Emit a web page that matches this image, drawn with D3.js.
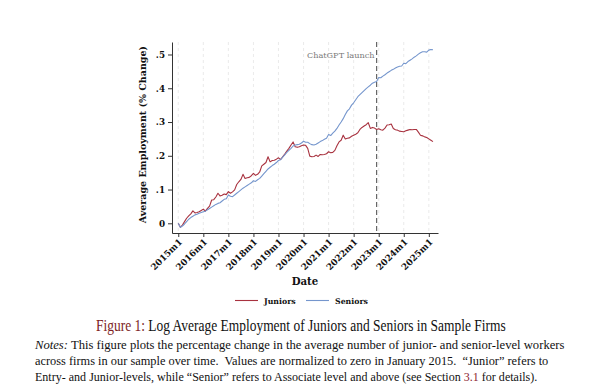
<!DOCTYPE html>
<html><head><meta charset="utf-8">
<script src="https://cdn.jsdelivr.net/npm/d3@7"></script>
<style>body{margin:0;background:#fff} svg{display:block}</style>
</head><body>
<svg id="c" width="600" height="390"></svg>
<script>
// Monthly values from 2015m1 (index 0) to 2025m3 (index 122)
const juniors = [
 0.000,-0.012,-0.005,0.005,0.015,0.022,0.028,0.037,0.031,0.032,0.034,0.038,
 0.042,0.036,0.044,0.051,0.069,0.070,0.078,0.089,0.081,0.083,0.087,0.085,
 0.094,0.089,0.093,0.099,0.115,0.123,0.130,0.145,0.133,0.135,0.136,0.141,
 0.148,0.142,0.145,0.152,0.170,0.175,0.180,0.197,0.182,0.186,0.187,0.190,
 0.194,0.189,0.197,0.205,0.214,0.222,0.232,0.241,0.227,0.225,0.227,0.230,
 0.232,0.231,0.222,0.199,0.197,0.198,0.202,0.198,0.204,0.203,0.204,0.206,
 0.212,0.209,0.210,0.216,0.230,0.241,0.246,0.261,0.250,0.252,0.253,0.258,
 0.261,0.264,0.268,0.278,0.284,0.288,0.292,0.298,0.281,0.284,0.282,0.278,
 0.280,0.277,0.276,0.282,0.291,0.292,0.294,0.281,0.277,0.276,0.273,0.272,
 0.271,0.274,0.276,0.278,0.277,0.278,0.278,0.270,0.261,0.259,0.256,0.254,
 0.250,0.246,0.242];
const seniors = [
 0.000,-0.012,-0.008,-0.002,0.005,0.012,0.017,0.021,0.025,0.027,0.030,0.032,
 0.034,0.036,0.040,0.044,0.048,0.052,0.056,0.059,0.061,0.066,0.071,0.073,
 0.084,0.080,0.079,0.084,0.089,0.094,0.099,0.104,0.108,0.112,0.116,0.120,
 0.126,0.124,0.129,0.133,0.140,0.147,0.154,0.161,0.166,0.171,0.175,0.180,
 0.186,0.188,0.196,0.203,0.210,0.216,0.222,0.229,0.232,0.233,0.234,0.238,
 0.243,0.240,0.240,0.236,0.233,0.232,0.234,0.238,0.242,0.245,0.249,0.252,
 0.263,0.260,0.267,0.273,0.281,0.291,0.300,0.310,0.322,0.333,0.339,0.350,
 0.357,0.366,0.375,0.381,0.387,0.393,0.399,0.404,0.409,0.415,0.418,0.420,
 0.432,0.431,0.436,0.440,0.445,0.449,0.453,0.456,0.460,0.463,0.465,0.466,
 0.474,0.473,0.479,0.483,0.487,0.492,0.496,0.501,0.505,0.508,0.508,0.507,
 0.513,0.515,0.514];
const seriesNames = ["Juniors", "Seniors"];
const seriesColors = ["#a8323f", "#7596cd"];
const yTicks = [0, 0.1, 0.2, 0.3, 0.4, 0.5];
const yTickLabels = ["0", ".1", ".2", ".3", ".4", ".5"];
const xTickMonths = [0, 12, 24, 36, 48, 60, 72, 84, 96, 108, 120];
const xTickLabels = ["2015m1","2016m1","2017m1","2018m1","2019m1","2020m1","2021m1","2022m1","2023m1","2024m1","2025m1"];
const launchMonth = 95;
const launchLabel = "ChatGPT launch";
const yTitle = "Average Employment (% Change)";
const xTitle = "Date";
const captionLabel = "Figure 1:";
const captionText = " Log Average Employment of Juniors and Seniors in Sample Firms";

const svg = d3.select("#c");
const chartFont = "'DejaVu Serif', serif";
const textFont = "'Liberation Serif', 'Times New Roman', serif";

const x = d3.scaleLinear().domain([-3, 124.4]).range([172, 438]);
const y = d3.scaleLinear().domain([-0.0287, 0.537]).range([233, 42]);
const [yb, yt] = y.range();

// vertical grid lines
svg.append("g").selectAll("line").data(xTickMonths).join("line")
  .attr("x1", d => x(d)).attr("x2", d => x(d))
  .attr("y1", yt).attr("y2", yb)
  .attr("stroke", "#e4e4e4").attr("stroke-width", 0.8).attr("stroke-dasharray", "3,3");

// series lines
const line = d3.line().x((d, i) => x(i)).y(d => y(d));
[juniors, seniors].forEach((s, k) => {
  svg.append("path").datum(s).attr("d", line)
    .attr("fill", "none").attr("stroke", seriesColors[k])
    .attr("stroke-width", 1.1).attr("stroke-linejoin", "round");
});

// launch line
svg.append("line").attr("x1", x(launchMonth)).attr("x2", x(launchMonth))
  .attr("y1", yt).attr("y2", yb)
  .attr("stroke", "#666").attr("stroke-width", 1.2).attr("stroke-dasharray", "5,3");
svg.append("text").attr("x", x(launchMonth) - 2).attr("y", 58)
  .attr("text-anchor", "end").attr("font-family", chartFont).attr("font-size", 8.2)
  .attr("fill", "#7a7a7a").text(launchLabel);

// axes
const yAxis = svg.append("g").attr("transform", `translate(${x.range()[0]},0)`)
  .call(d3.axisLeft(y).tickValues(yTicks).tickFormat((d, i) => yTickLabels[i])
    .tickSize(4).tickSizeOuter(0).tickPadding(3));
yAxis.selectAll("text").attr("font-family", chartFont).attr("font-weight", "bold")
  .attr("font-size", 8.8).attr("fill", "#111");
const xAxis = svg.append("g").attr("transform", `translate(0,${yb})`)
  .call(d3.axisBottom(x).tickValues(xTickMonths).tickFormat((d, i) => xTickLabels[i])
    .tickSize(4).tickSizeOuter(0));
xAxis.selectAll("text").attr("font-family", chartFont).attr("font-weight", "bold")
  .attr("font-size", 8.8).attr("fill", "#111")
  .attr("x", 0).attr("y", 0).attr("dy", 0)
  .attr("text-anchor", "end").attr("transform", "translate(4,9.5) rotate(-45)");
[yAxis, xAxis].forEach(a => {
  a.select(".domain").attr("stroke", "#333").attr("stroke-width", 1);
  a.selectAll(".tick line").attr("stroke", "#333").attr("stroke-width", 1);
});

// axis titles
svg.append("text").attr("transform", `translate(146,${(yt + y(0)) / 2 + 2}) rotate(-90)`)
  .attr("text-anchor", "middle").attr("font-family", chartFont).attr("font-weight", "bold")
  .attr("font-size", 9.5).attr("fill", "#111").text(yTitle);
svg.append("text").attr("x", (x.range()[0] + x.range()[1]) / 2).attr("y", 285)
  .attr("text-anchor", "middle").attr("font-family", chartFont).attr("font-weight", "bold")
  .attr("font-size", 10.2).attr("fill", "#111").text(xTitle);

// legend
const legX = [235, 306];
seriesNames.forEach((n, k) => {
  svg.append("line").attr("x1", legX[k]).attr("x2", legX[k] + 23)
    .attr("y1", 300.5).attr("y2", 300.5).attr("stroke", seriesColors[k]).attr("stroke-width", 1.1);
  svg.append("text").attr("x", legX[k] + 29).attr("y", 303.5)
    .attr("font-family", chartFont).attr("font-weight", "bold").attr("font-size", 7.8)
    .attr("fill", "#111").text(n);
});

// fit text horizontally
function fitLine(g, x0, width) {
  const t = g.select("text");
  const w = t.node().getComputedTextLength();
  const s = width / w;
  t.attr("transform", `translate(${x0},0) scale(${s},1)`);
}

// caption
const cap = svg.append("g").attr("transform", "translate(0,330.5)");
const capT = cap.append("text").attr("font-family", textFont).attr("font-size", 16.5)
  .attr("fill", "#111").style("white-space", "pre");
capT.append("tspan").attr("fill", "#7d1f26").text(captionLabel);
capT.append("tspan").text(captionText);
fitLine(cap, 96, 410);

// notes
const notes = [
  [["i", "Notes:"], ["", " This figure plots the percentage change in the average number of junior- and senior-level workers"]],
  [["", "across firms in our sample over time.  Values are normalized to zero in January 2015.  \u201cJunior\u201d refers to"]],
  [["", "Entry- and Junior-levels, while \u201cSenior\u201d refers to Associate level and above (see Section "], ["r", "3.1"], ["", " for details)."]]
];
const noteWidths = [530, 514, 503];
const noteY = [349, 365, 381];
notes.forEach((parts, i) => {
  const g = svg.append("g").attr("transform", `translate(0,${noteY[i]})`);
  const t = g.append("text").attr("font-family", textFont).attr("font-size", 13)
    .attr("fill", "#111").style("white-space", "pre");
  parts.forEach(([k, s]) => {
    const sp = t.append("tspan").text(s);
    if (k === "i") sp.attr("font-style", "italic");
    if (k === "r") sp.attr("fill", "#8b2330");
  });
  fitLine(g, 35, noteWidths[i]);
});
</script>
</body></html>
